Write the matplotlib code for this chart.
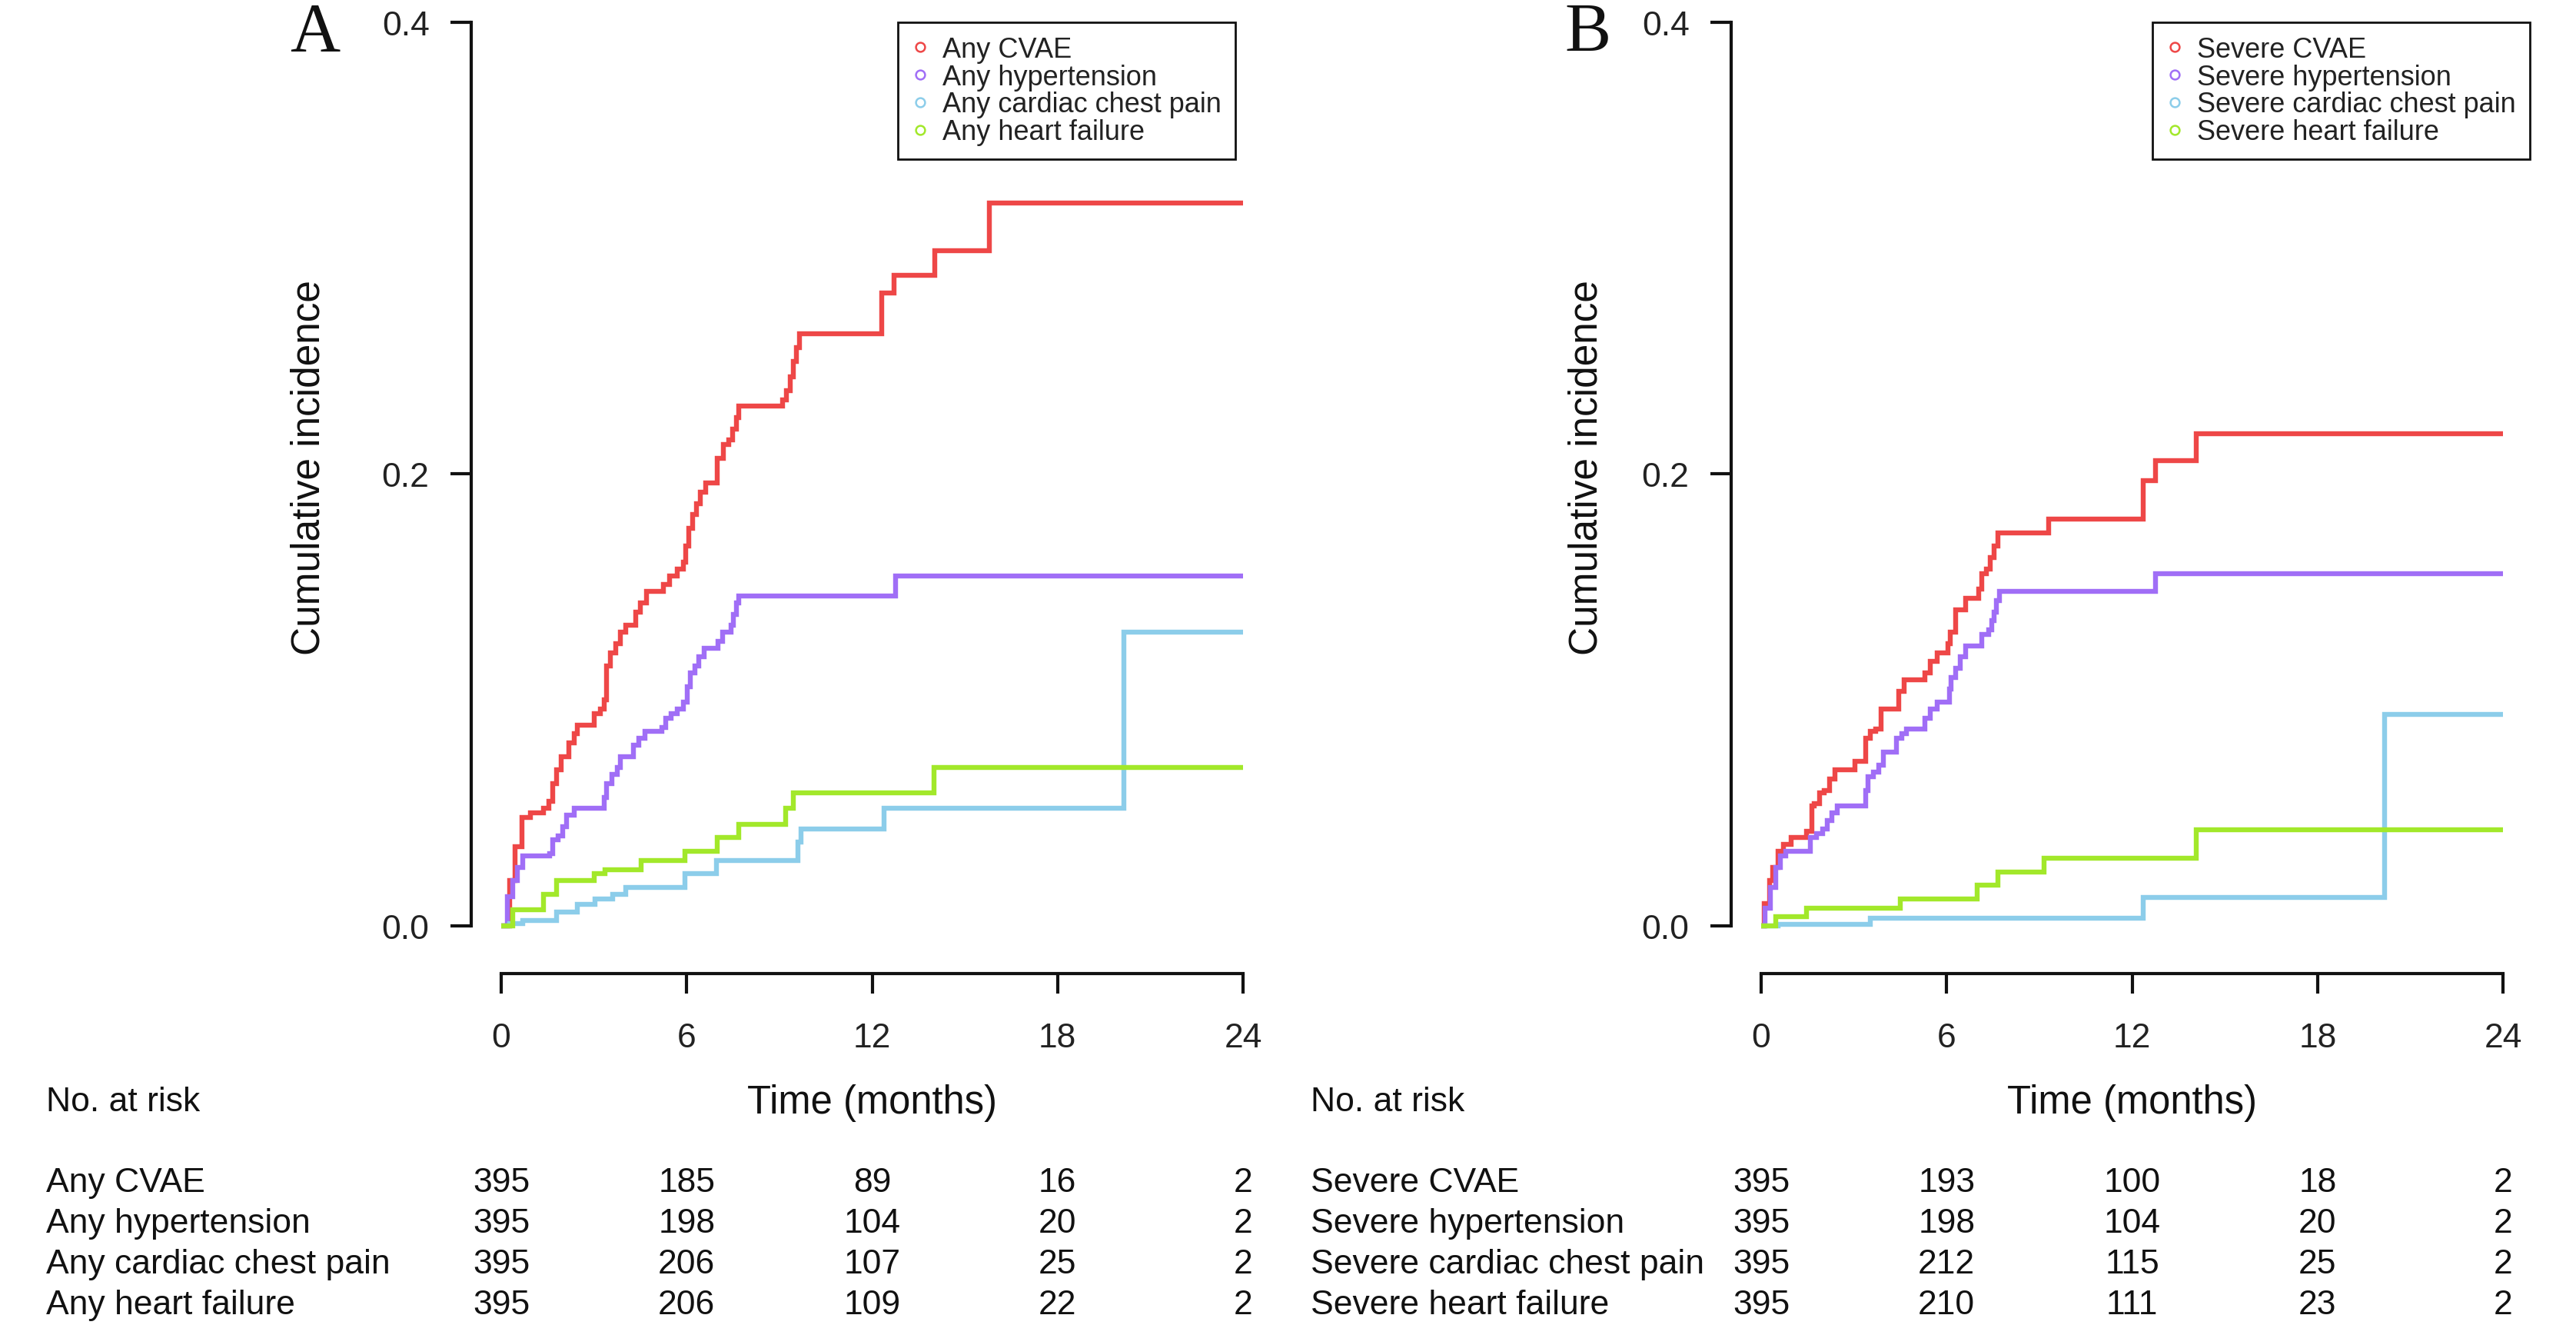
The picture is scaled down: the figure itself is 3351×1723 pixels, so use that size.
import matplotlib
matplotlib.use('Agg')
from matplotlib import pyplot as plt
from matplotlib import transforms
from matplotlib.lines import Line2D

plt.rcParams['font.family'] = ['Liberation Sans', 'DejaVu Sans']

FIG_W, FIG_H = 3351, 1724  # output size in pixels (dpi 100)

time_ticks = [0, 6, 12, 18, 24]
y_ticks = [0.0, 0.2, 0.4]
colors = ['#EE4747', '#A06EF6', '#8CCDEA', '#A2E82A']

# ---- panel A: any grade events ----
a_labels = ['Any CVAE', 'Any hypertension', 'Any cardiac chest pain', 'Any heart failure']

a_cvae_t = [0, 0.28, 0.45, 0.67, 0.95, 1.36, 1.53, 1.66, 1.78, 1.95, 2.20, 2.36, 2.45,
            3.0, 3.2, 3.33, 3.41, 3.53, 3.70, 3.86, 4.03, 4.36, 4.49, 4.69, 5.24, 5.44,
            5.69, 5.89, 5.96, 6.06, 6.19, 6.32, 6.44, 6.61, 6.99, 7.19, 7.36, 7.49, 7.61,
            7.69, 9.10, 9.22, 9.35, 9.44, 9.55, 9.65, 12.32, 12.72, 14.03, 15.8]
a_cvae_v = [0, 0.020, 0.035, 0.048, 0.050, 0.052, 0.055, 0.063, 0.069, 0.075, 0.081, 0.085,
            0.089, 0.094, 0.096, 0.100, 0.115, 0.121, 0.125, 0.130, 0.133, 0.139, 0.143,
            0.148, 0.151, 0.155, 0.158, 0.161, 0.168, 0.176, 0.182, 0.187, 0.192, 0.196,
            0.207, 0.213, 0.215, 0.220, 0.225, 0.230, 0.233, 0.237, 0.243, 0.250, 0.256,
            0.262, 0.280, 0.288, 0.299, 0.320]

a_htn_t = [0, 0.2, 0.37, 0.53, 0.70, 1.56, 1.66, 1.83, 2.0, 2.11, 2.36, 3.33, 3.41, 3.58,
           3.75, 3.86, 4.28, 4.44, 4.64, 5.19, 5.33, 5.49, 5.69, 5.89, 6.03, 6.13, 6.27,
           6.39, 6.56, 7.02, 7.16, 7.44, 7.52, 7.61, 7.69, 12.77]
a_htn_v = [0, 0.013, 0.020, 0.026, 0.031, 0.032, 0.038, 0.040, 0.044, 0.049, 0.052, 0.057,
           0.063, 0.067, 0.070, 0.075, 0.080, 0.083, 0.086, 0.088, 0.092, 0.094, 0.096,
           0.099, 0.106, 0.112, 0.115, 0.119, 0.123, 0.126, 0.130, 0.133, 0.138, 0.143,
           0.146, 0.155]

a_pain_t = [0, 0.28, 0.70, 1.78, 2.45, 3.03, 3.61, 4.03, 5.94, 6.97, 9.6, 9.69, 12.38, 20.14]
a_pain_v = [0, 0.001, 0.0024, 0.006, 0.0095, 0.012, 0.014, 0.017, 0.023, 0.029, 0.037,
            0.043, 0.052, 0.130]

a_hf_t = [0, 0.37, 1.36, 1.78, 3.0, 3.36, 4.53, 5.94, 6.99, 7.69, 9.19, 9.44, 14.01]
a_hf_v = [0, 0.007, 0.014, 0.020, 0.023, 0.025, 0.029, 0.033, 0.039, 0.045, 0.052, 0.059, 0.070]

a_risk = [[395, 185, 89, 16, 2],
          [395, 198, 104, 20, 2],
          [395, 206, 107, 25, 2],
          [395, 206, 109, 22, 2]]

# ---- panel B: severe events ----
b_labels = ['Severe CVAE', 'Severe hypertension', 'Severe cardiac chest pain', 'Severe heart failure']

b_cvae_t = [0, 0.10, 0.27, 0.38, 0.55, 0.72, 0.96, 1.46, 1.63, 1.71, 1.88, 2.05, 2.21, 2.38,
            3.04, 3.38, 3.54, 3.71, 3.88, 4.46, 4.62, 5.29, 5.46, 5.70, 6.04, 6.12, 6.29,
            6.62, 7.04, 7.15, 7.28, 7.42, 7.53, 7.65, 9.31, 12.36, 12.77, 14.07]
b_cvae_v = [0, 0.010, 0.020, 0.026, 0.033, 0.036, 0.039, 0.042, 0.053, 0.054, 0.059, 0.060,
            0.065, 0.069, 0.073, 0.083, 0.086, 0.087, 0.096, 0.104, 0.109, 0.112, 0.117,
            0.121, 0.125, 0.130, 0.140, 0.145, 0.149, 0.156, 0.158, 0.163, 0.168, 0.174,
            0.180, 0.197, 0.206, 0.218]

b_htn_t = [0, 0.13, 0.30, 0.47, 0.63, 0.80, 1.60, 1.80, 2.0, 2.13, 2.30, 2.46, 3.38, 3.46,
           3.63, 3.80, 3.96, 4.37, 4.54, 4.71, 5.29, 5.46, 5.70, 6.09, 6.15, 6.29, 6.45,
           6.62, 7.15, 7.37, 7.45, 7.53, 7.62, 7.70, 12.77]
b_htn_v = [0, 0.008, 0.017, 0.026, 0.031, 0.033, 0.039, 0.041, 0.043, 0.0465, 0.050, 0.053,
           0.060, 0.066, 0.068, 0.071, 0.077, 0.083, 0.085, 0.087, 0.092, 0.096, 0.099,
           0.105, 0.110, 0.114, 0.119, 0.124, 0.129, 0.131, 0.135, 0.139, 0.144, 0.148,
           0.156]

b_pain_t = [0, 0.55, 3.54, 12.36, 20.17]
b_pain_v = [0, 0.0008, 0.0035, 0.0127, 0.0937]

b_hf_t = [0, 0.47, 1.46, 4.51, 7.0, 7.65, 9.16, 14.07]
b_hf_v = [0, 0.004, 0.008, 0.012, 0.018, 0.024, 0.030, 0.0425]

b_risk = [[395, 193, 100, 18, 2],
          [395, 198, 104, 20, 2],
          [395, 212, 115, 25, 2],
          [395, 210, 111, 23, 2]]


def fy(py):
    # pixel row (from top) -> figure fraction
    return 1 - py / FIG_H


def draw_panel(fig, left_px, curves, labels, risk, letter, letter_x, ylab_x, legend_x, table_x):
    ax = fig.add_axes([left_px / FIG_W, fy(1267), 1042.2 / FIG_W, 1266.4 / FIG_H])
    for (t, v), c in zip(curves, colors):
        ax.step(list(t) + [24], list(v) + [v[-1]], where='post', color=c, lw=4.6,
                solid_joinstyle='miter', solid_capstyle='butt')

    ax.set_xlim(-0.96, 24.96)
    ax.set_ylim(-0.0211, 0.41)
    for s in ['top', 'right']:
        ax.spines[s].set_visible(False)
    ax.spines['left'].set_bounds(0, 0.4)
    ax.spines['bottom'].set_bounds(0, 24)
    for s in ['left', 'bottom']:
        ax.spines[s].set_linewidth(3)
        ax.spines[s].set_color('#111111')
    ax.set_xticks(time_ticks)
    ax.set_xticklabels([str(x) for x in time_ticks])
    ax.set_yticks(y_ticks)
    ax.set_yticklabels(['%.1f' % y for y in y_ticks])
    ax.tick_params(axis='x', length=19, width=3, pad=26, labelsize=32,
                   color='#111111', labelcolor='#222222')
    ax.tick_params(axis='y', length=19.5, width=3, pad=20, labelsize=32,
                   color='#111111', labelcolor='#222222')

    ax.text(ylab_x, 0.52, 'Cumulative incidence', rotation=90, ha='center', va='center',
            fontsize=37, color='#111111', transform=ax.transAxes)
    fig.text(letter_x / FIG_W, fy(67), letter, family=['Liberation Serif', 'DejaVu Serif'],
             fontsize=65, ha='center', va='baseline', color='#111111')

    handles = [Line2D([], [], marker='o', linestyle='none', markerfacecolor='none',
                      markeredgecolor=c, markersize=8.5, markeredgewidth=1.8) for c in colors]
    leg = ax.legend(handles, labels, loc='upper right', bbox_to_anchor=(legend_x, 0.9768),
                    fontsize=26, frameon=True, fancybox=False, edgecolor='#111111',
                    framealpha=1, borderpad=0.5, labelspacing=0.02, handlelength=0.6,
                    handletextpad=0.5, borderaxespad=0)
    leg.get_frame().set_linewidth(2)
    for txt in leg.get_texts():
        txt.set_color('#222222')

    # number at risk table
    blend = transforms.blended_transform_factory(ax.transData, fig.transFigure)
    ax.text(12, fy(1448), 'Time (months)', transform=blend, ha='center', va='baseline',
            fontsize=36.5, color='#111111')
    fig.text(table_x / FIG_W, fy(1445), 'No. at risk', ha='left', va='baseline',
             fontsize=32, color='#111111')
    row_base = [1550, 1603, 1656, 1709]
    for lab, nums, yb in zip(labels, risk, row_base):
        fig.text(table_x / FIG_W, fy(yb), lab, ha='left', va='baseline', fontsize=32,
                 color='#111111')
        for t, n in zip(time_ticks, nums):
            ax.text(t, fy(yb), str(n), transform=blend, ha='center', va='baseline',
                    fontsize=32, color='#111111')
    return ax


fig = plt.figure(figsize=(FIG_W / 100, FIG_H / 100), dpi=100)

curves_a = [(a_cvae_t, a_cvae_v), (a_htn_t, a_htn_v), (a_pain_t, a_pain_v), (a_hf_t, a_hf_v)]
curves_b = [(b_cvae_t, b_cvae_v), (b_htn_t, b_htn_v), (b_pain_t, b_pain_v), (b_hf_t, b_hf_v)]

draw_panel(fig, 613.4, curves_a, a_labels, a_risk, 'A', 410, -0.203, 0.9534, 60)
draw_panel(fig, 2252.4, curves_b, b_labels, b_risk, 'B', 2066, -0.181, 0.9966, 1705)

fig.savefig('out.png', dpi=100, facecolor='white')
